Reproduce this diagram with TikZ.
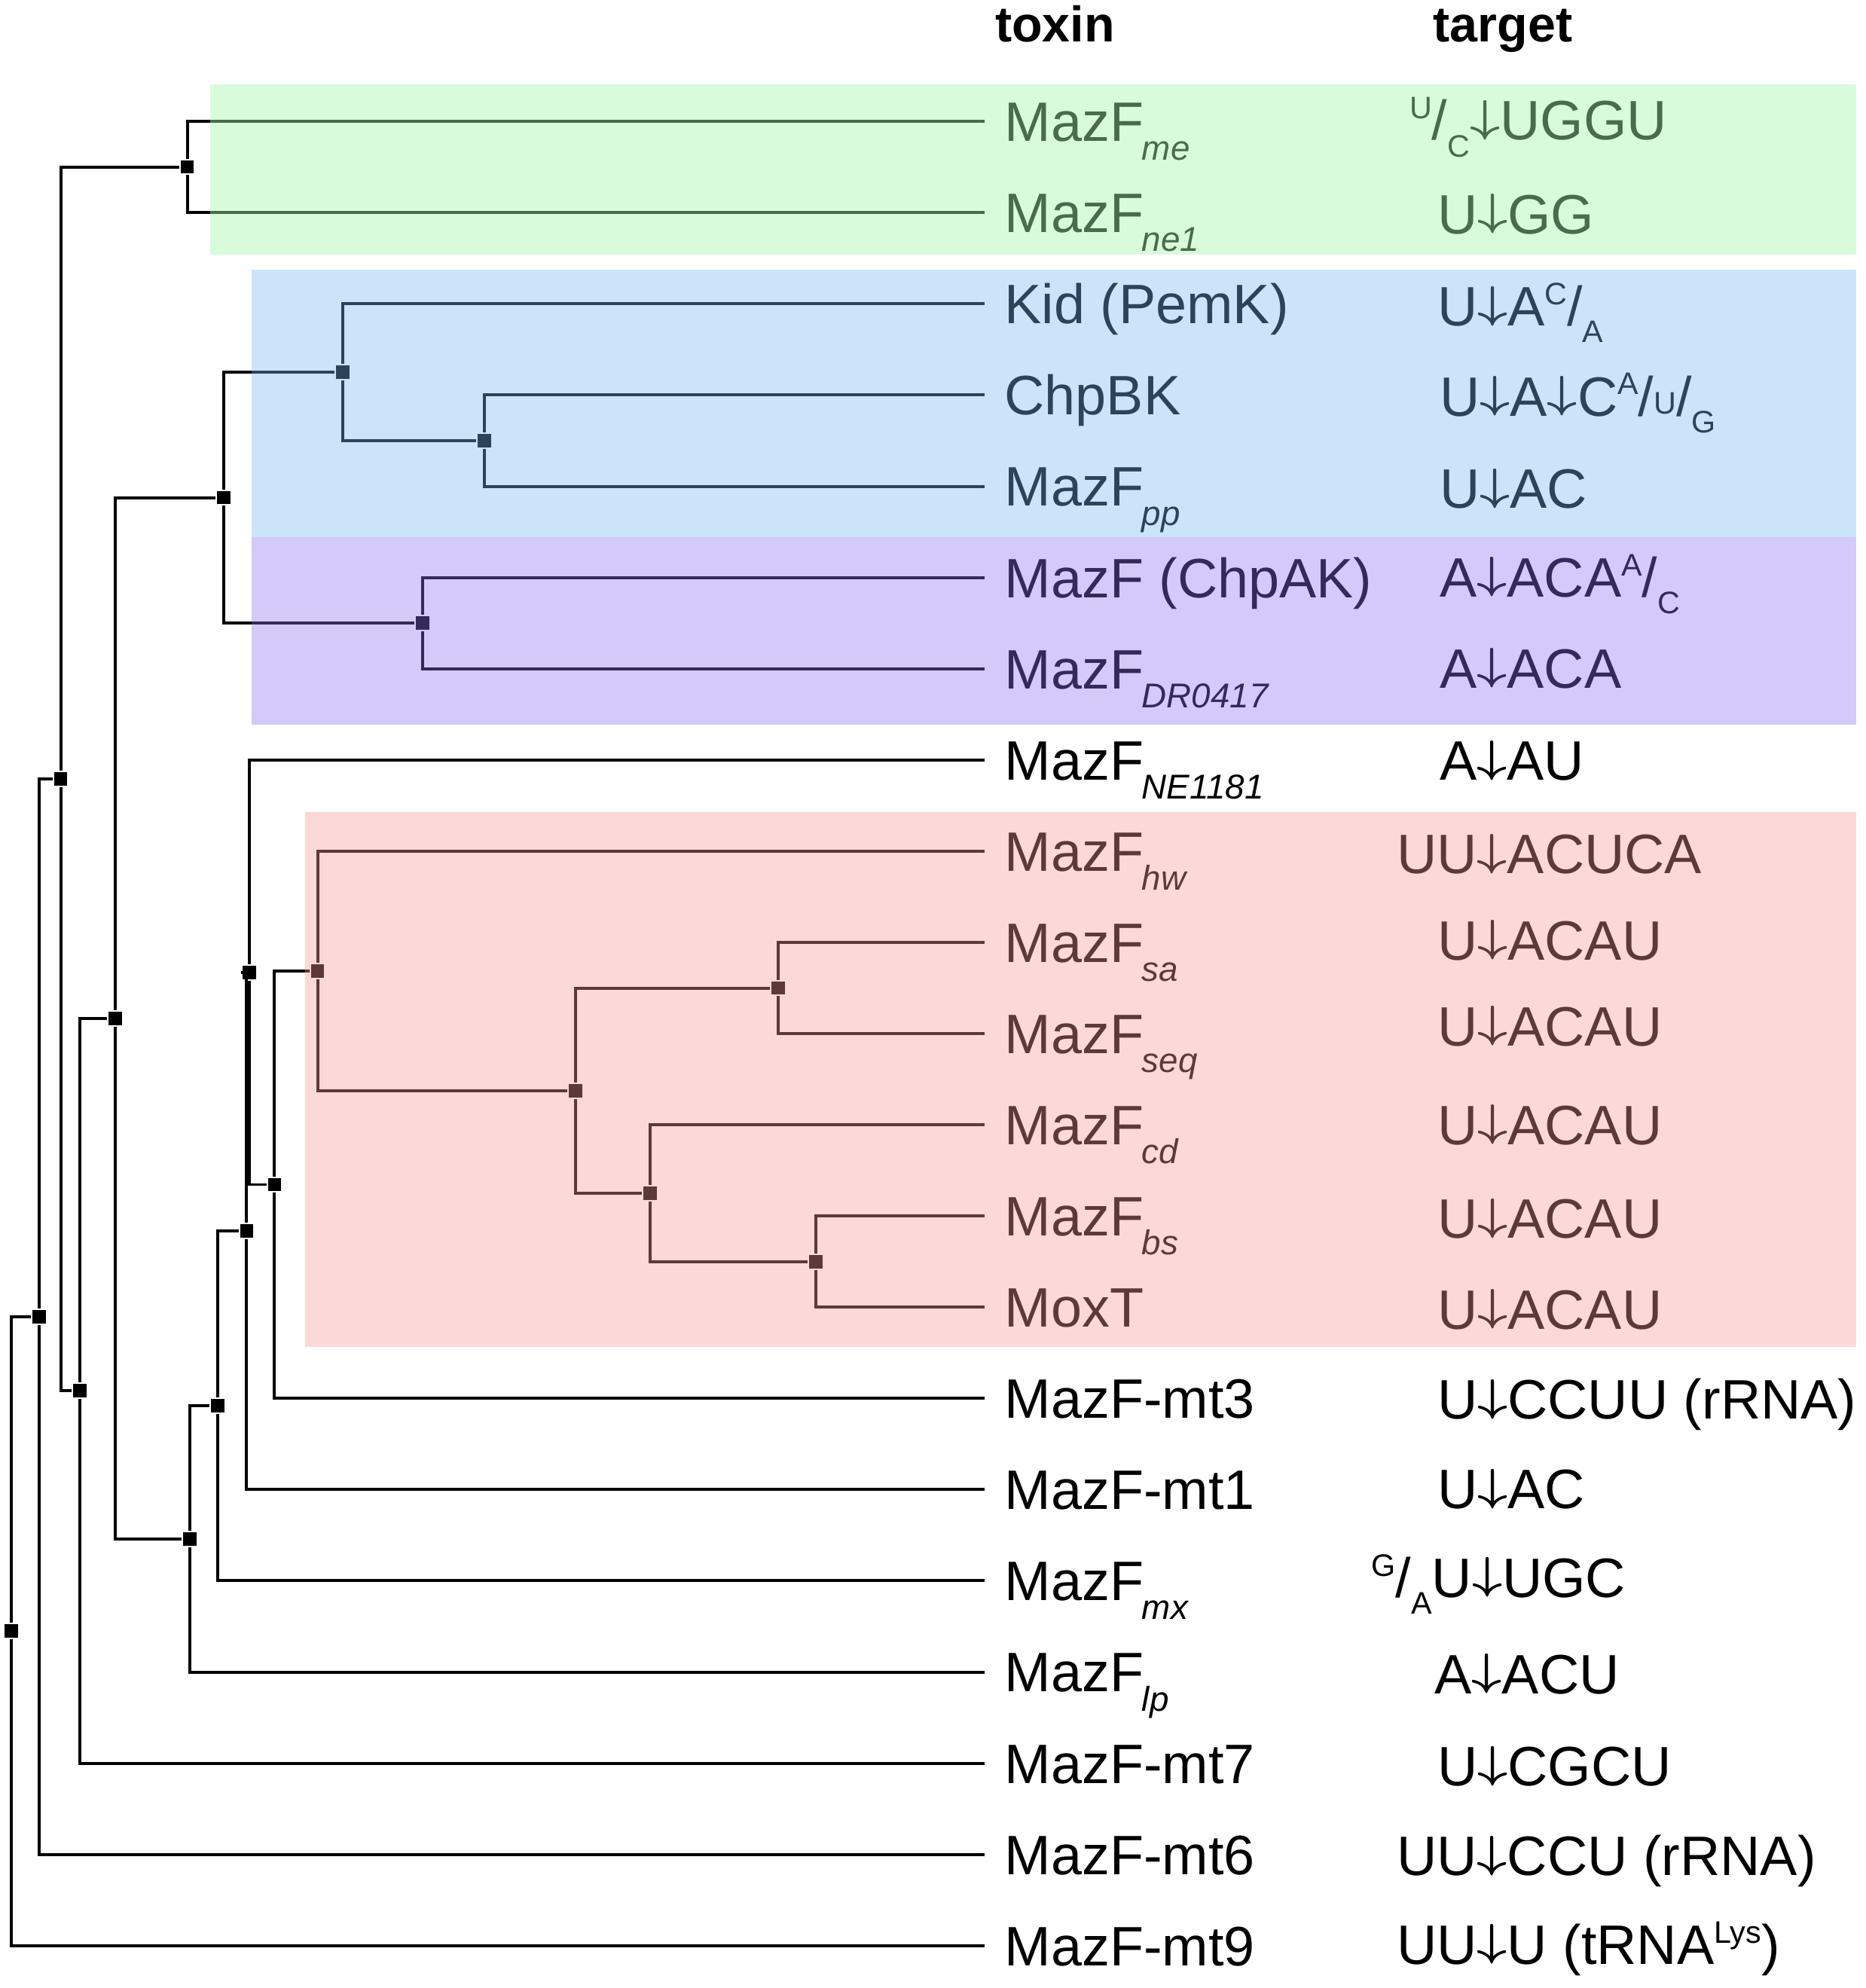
\documentclass[tikz,border=0pt]{standalone}
\usepackage{fontspec}
\setmainfont{Liberation Sans}
\definecolor{mintbox}{RGB}{168,248,177}
\definecolor{skybox}{RGB}{118,185,244}
\definecolor{lilacbox}{RGB}{139,113,244}
\definecolor{rosebox}{RGB}{250,154,154}
\newcommand{\lsub}[1]{\kern-0.03em\raisebox{-8.5pt}{\fontsize{15.5}{18}\selectfont\itshape #1}}
\newcommand{\tsup}[1]{\raisebox{9.5pt}{\fontsize{14}{16}\selectfont #1}}
\newcommand{\tsub}[1]{\raisebox{-7.5pt}{\fontsize{14}{16}\selectfont #1}}
\newcommand{\tmid}[1]{\raisebox{1pt}{\fontsize{14}{16}\selectfont #1}}
\newcommand{\cut}{\raisebox{0.156em}{\scalebox{0.95}[0.806]{\boldmath$\downarrow$}}}
\tikzset{
  leaf/.style={anchor=west, inner xsep=3mm, inner ysep=0pt, text height=17.9pt,
    text depth=0pt, font=\fontsize{25}{30}\selectfont},
  site/.style={anchor=west, inner sep=0pt, text height=17.9pt, text depth=0pt,
    font=\fontsize{25}{30}\selectfont},
  split/.style={fill=black, minimum size=2.1mm, inner sep=0pt},
  head/.style={anchor=base, inner sep=0pt, font=\fontsize{22.5}{27}\selectfont\bfseries},
}
\begin{document}
\begin{tikzpicture}[x=0.2mm, y=-0.2mm, line width=1.35pt]
  \fill[white] (0,0) rectangle (1475,1571.5);
  \useasboundingbox (0,0) rectangle (1475,1571.5);
  % column heads
  \node[head] (toxin) at (834,33) {toxin};
  \node[head] (target) at (1188,33) {target};
  % toxins
  \node[leaf] (me) at (778,96) {MazF\lsub{me}};
  \node[leaf] (ne1) at (778,168.1) {MazF\lsub{ne1}};
  \node[leaf] (kid) at (778,240.2) {Kid (PemK)};
  \node[leaf] (chpbk) at (778,312.3) {ChpBK};
  \node[leaf] (pp) at (778,384.4) {MazF\lsub{pp}};
  \node[leaf] (chpak) at (778,456.5) {MazF (ChpAK)};
  \node[leaf] (dr) at (778,528.6) {MazF\lsub{DR0417}};
  \node[leaf] (ne1181) at (778,600.7) {MazF\lsub{NE1181}};
  \node[leaf] (hw) at (778,672.8) {MazF\lsub{hw}};
  \node[leaf] (sa) at (778,744.9) {MazF\lsub{sa}};
  \node[leaf] (seq) at (778,817) {MazF\lsub{seq}};
  \node[leaf] (cd) at (778,889.1) {MazF\lsub{cd}};
  \node[leaf] (bs) at (778,961.2) {MazF\lsub{bs}};
  \node[leaf] (moxt) at (778,1033.3) {MoxT};
  \node[leaf] (mt3) at (778,1105.4) {MazF-mt3};
  \node[leaf] (mt1) at (778,1177.5) {MazF-mt1};
  \node[leaf] (mx) at (778,1249.6) {MazF\lsub{mx}};
  \node[leaf] (lp) at (778,1321.7) {MazF\lsub{lp}};
  \node[leaf] (mt7) at (778,1393.8) {MazF-mt7};
  \node[leaf] (mt6) at (778,1465.9) {MazF-mt6};
  \node[leaf] (mt9) at (778,1538) {MazF-mt9};
  % cleavage sites
  \node[site] (s-me) at (1113,95) {\tsup{U}/\tsub{C}\cut UGGU};
  \node[site] (s-ne1) at (1135,169) {U\cut GG};
  \node[site] (s-kid) at (1135,242) {U\cut A\tsup{C}/\tsub{A}};
  \node[site] (s-chpbk) at (1137,313) {U\cut A\cut C\tsup{A}/\tmid{U}/\tsub{G}};
  \node[site] (s-pp) at (1137,386) {U\cut AC};
  \node[site] (s-chpak) at (1137,456) {A\cut ACA\tsup{A}/\tsub{C}};
  \node[site] (s-dr) at (1137,528) {A\cut ACA};
  \node[site] (s-ne1181) at (1137,601) {A\cut AU};
  \node[site] (s-hw) at (1103,675) {UU\cut ACUCA};
  \node[site] (s-sa) at (1135,743) {U\cut ACAU};
  \node[site] (s-seq) at (1135,811) {U\cut ACAU};
  \node[site] (s-cd) at (1135,889) {U\cut ACAU};
  \node[site] (s-bs) at (1135,963) {U\cut ACAU};
  \node[site] (s-moxt) at (1135,1035) {U\cut ACAU};
  \node[site] (s-mt3) at (1135,1106) {U\cut CCUU (rRNA)};
  \node[site] (s-mt1) at (1135,1177) {U\cut AC};
  \node[site] (s-mx) at (1083,1247) {\tsup{G}/\tsub{A}U\cut UGC};
  \node[site] (s-lp) at (1133,1323) {A\cut ACU};
  \node[site] (s-mt7) at (1135,1396) {U\cut CGCU};
  \node[site] (s-mt6) at (1103,1467) {UU\cut CCU (rRNA)};
  \node[site] (s-mt9) at (1103,1537) {UU\cut U (tRNA\tsup{Lys})};
  % splits
  \node[split] (n1) at (148,132) {};
  \node[split] (n2) at (271,294.3) {};
  \node[split] (n3) at (383,348.4) {};
  \node[split] (n4) at (334,492.6) {};
  \node[split] (n5) at (177,393.4) {};
  \node[split] (n6) at (615,781) {};
  \node[split] (n7) at (645,997.3) {};
  \node[split] (n8) at (514,943.2) {};
  \node[split] (n9) at (455,862.1) {};
  \node[split] (n10) at (251,767.5) {};
  \node[split] (n11) at (217,936.4) {};
  \node[split] (n12) at (197,768.6) {};
  \node[split] (n13) at (195,973) {};
  \node[split] (n14) at (172,1111.3) {};
  \node[split] (n15) at (150,1216.5) {};
  \node[split] (n16) at (91,805) {};
  \node[split] (n17) at (63,1099.4) {};
  \node[split] (n18) at (48,615.7) {};
  \node[split] (n19) at (31,1040.8) {};
  \node[split] (n20) at (9,1289.4) {};
  % branches
  \draw (n1) |- (me.west) (n1) |- (ne1.west);
  \draw (n2) |- (kid.west) (n2) |- (n3);
  \draw (n3) |- (chpbk.west) (n3) |- (pp.west);
  \draw (n4) |- (chpak.west) (n4) |- (dr.west);
  \draw (n5) |- (n2) (n5) |- (n4);
  \draw (n6) |- (sa.west) (n6) |- (seq.west);
  \draw (n7) |- (bs.west) (n7) |- (moxt.west);
  \draw (n8) |- (cd.west) (n8) |- (n7);
  \draw (n9) |- (n6) (n9) |- (n8);
  \draw (n10) |- (hw.west) (n10) |- (n9);
  \draw (n11) |- (n10) (n11) |- (mt3.west);
  \draw (n12) |- (ne1181.west) (n12) |- (n11);
  \draw (n13) |- (n12) (n13) |- (mt1.west);
  \draw (n14) |- (n13) (n14) |- (mx.west);
  \draw (n15) |- (n14) (n15) |- (lp.west);
  \draw (n16) |- (n5) (n16) |- (n15);
  \draw (n17) |- (n16) (n17) |- (mt7.west);
  \draw (n18) |- (n1) (n18) |- (n17);
  \draw (n19) |- (n18) (n19) |- (mt6.west);
  \draw (n20) |- (n19) (n20) |- (mt9.west);
  % clade boxes
  \fill[mintbox, fill opacity=0.44] (166,67) rectangle (1467,201);
  \fill[skybox, fill opacity=0.373] (199,213) rectangle (1467,424.7);
  \fill[lilacbox, fill opacity=0.373] (199,424.7) rectangle (1467,573);
  \fill[rosebox, fill opacity=0.376] (241,642) rectangle (1467,1065);
\end{tikzpicture}
\end{document}
